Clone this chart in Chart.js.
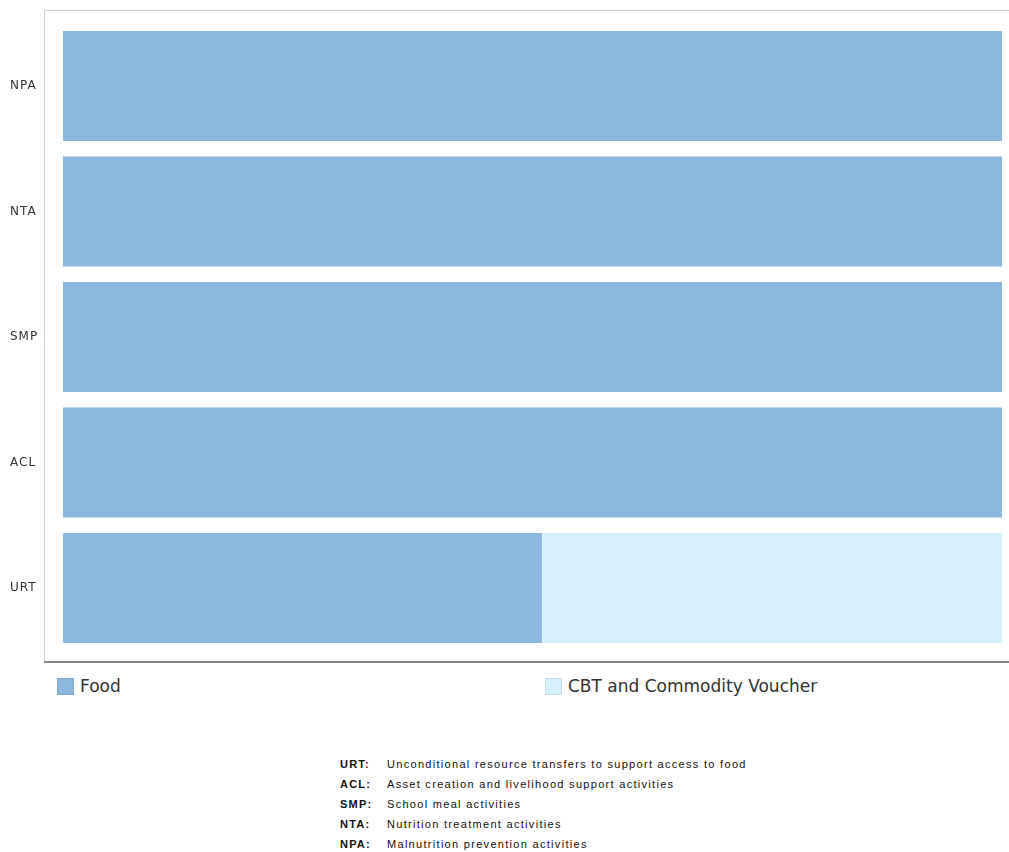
<!DOCTYPE html>
<html>
<head>
<meta charset="utf-8">
<script src="https://cdn.jsdelivr.net/npm/chart.js@4.4.1/dist/chart.umd.min.js"></script>
<style>
  html, body { margin: 0; padding: 0; background: #fff; }
  body { width: 1009px; height: 852px; position: relative; overflow: hidden; font-family: "DejaVu Sans", sans-serif; }
  #wrap { position: absolute; left: 0; top: 0; width: 1009px; height: 670px; }
  .leg { position: absolute; top: 676px; font-size: 17px; color: #333; display: flex; align-items: center; }
  .leg .sw { width: 17px; height: 17px; margin-right: 6px; box-sizing: border-box; border: 1px solid rgba(0,0,0,0.08); }
  #notes { position: absolute; left: 340px; top: 756px; font-family: "Liberation Sans", sans-serif; font-size: 11px; color: #111; letter-spacing: 1.3px; }
  #notes div { height: 20px; line-height: 16px; white-space: nowrap; }
  #notes b { display: inline-block; width: 47px; letter-spacing: 1.2px; }
</style>
</head>
<body>
<div id="wrap"><canvas id="c" width="1009" height="670"></canvas></div>
<div class="leg" id="leg0" style="left:57px"><span class="sw"></span><span class="tx"></span></div>
<div class="leg" id="leg1" style="left:545px"><span class="sw"></span><span class="tx"></span></div>
<div id="notes"></div>
<script>
const categories = ["NPA", "NTA", "SMP", "ACL", "URT"];
const seriesNames = ["Food", "CBT and Commodity Voucher"];
const foodValues = [100, 100, 100, 100, 51];
const cbtValues = [0, 0, 0, 0, 49];
const seriesColors = ["#8cb8e0", "#d6f0fc"];
const noteCodes = ["URT:", "ACL:", "SMP:", "NTA:", "NPA:"];
const noteTexts = [
  "Unconditional resource transfers to support access to food",
  "Asset creation and livelihood support activities",
  "School meal activities",
  "Nutrition treatment activities",
  "Malnutrition prevention activities"
];

[0, 1].forEach(i => {
  const el = document.getElementById("leg" + i);
  el.querySelector(".sw").style.background = seriesColors[i];
  el.querySelector(".tx").textContent = seriesNames[i];
});
const notes = document.getElementById("notes");
noteCodes.forEach((c, i) => {
  const d = document.createElement("div");
  const b = document.createElement("b");
  b.textContent = c;
  d.appendChild(b);
  d.appendChild(document.createTextNode(noteTexts[i]));
  notes.appendChild(d);
});

const framePlugin = {
  id: "frame",
  beforeDraw(chart) {
    chart.ctx.letterSpacing = "1px";
  },
  afterDraw(chart) {
    const ctx = chart.ctx;
    ctx.save();
    ctx.strokeStyle = "#cccccc";
    ctx.lineWidth = 1;
    ctx.beginPath();
    ctx.moveTo(44.5, 662);
    ctx.lineTo(44.5, 10.5);
    ctx.lineTo(1009, 10.5);
    ctx.stroke();
    ctx.strokeStyle = "#888888";
    ctx.lineWidth = 2;
    ctx.beginPath();
    ctx.moveTo(44, 662);
    ctx.lineTo(1009, 662);
    ctx.stroke();
    ctx.restore();
  }
};

new Chart(document.getElementById("c"), {
  type: "bar",
  data: {
    labels: categories,
    datasets: [
      { label: seriesNames[0], data: foodValues, backgroundColor: seriesColors[0], borderWidth: 0 },
      { label: seriesNames[1], data: cbtValues, backgroundColor: seriesColors[1], borderWidth: 0 }
    ]
  },
  options: {
    indexAxis: "y",
    responsive: false,
    animation: false,
    layout: { padding: { top: 23.25, bottom: 19.25, left: 10, right: 7 } },
    datasets: { bar: { barPercentage: 1, categoryPercentage: 0.877 } },
    plugins: { legend: { display: false }, tooltip: { enabled: false } },
    scales: {
      x: { stacked: true, min: 0, max: 100, display: false },
      y: {
        stacked: true,
        grid: { display: false, drawTicks: false },
        border: { display: false },
        ticks: { color: "#333", font: { family: "DejaVu Sans", size: 12 }, padding: 2, crossAlign: "far" },
        afterFit(scale) { scale.width = 53; }
      }
    }
  },
  plugins: [framePlugin]
});
</script>
</body>
</html>
